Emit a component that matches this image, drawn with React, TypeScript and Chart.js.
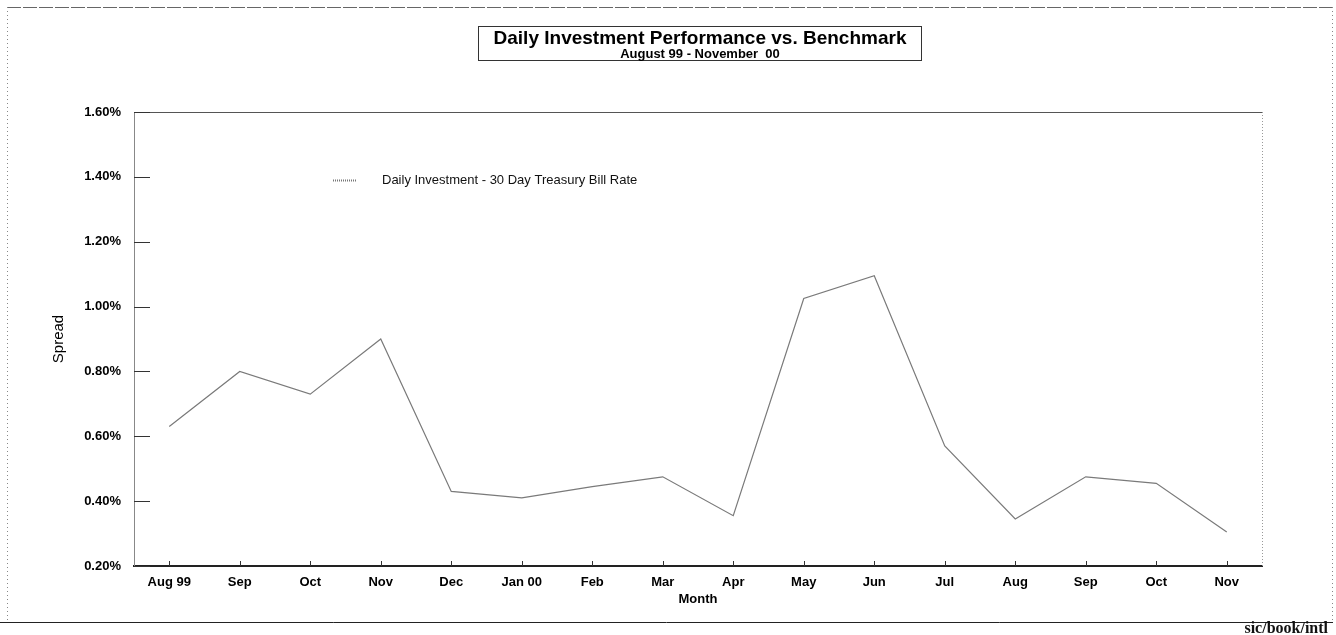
import React, { useEffect, useRef } from "react";
import { Chart, registerables } from "chart.js";

Chart.register(...registerables);

const months = ["Aug 99", "Sep", "Oct", "Nov", "Dec", "Jan 00", "Feb", "Mar", "Apr", "May", "Jun", "Jul", "Aug", "Sep", "Oct", "Nov"];
const spread = [0.63, 0.8, 0.73, 0.9, 0.43, 0.41, 0.445, 0.475, 0.355, 1.025, 1.095, 0.57, 0.345, 0.475, 0.455, 0.305];
const yTickValues = [0.2, 0.4, 0.6, 0.8, 1.0, 1.2, 1.4, 1.6];
const seriesLabel = "Daily Investment - 30 Day Treasury Bill Rate";
const titleText = "Daily Investment Performance vs. Benchmark";
const subtitleText = "August 99 - November  00";
const yAxisTitle = "Spread";
const xAxisTitle = "Month";
const footText = "sic/book/intl";

const SANS = "'Liberation Sans', Arial, Helvetica, sans-serif";
const SERIF = "'Liberation Serif', 'DejaVu Serif', serif";

const decorPlugin = {
  id: "decor",
  afterDraw(chart: any) {
    const ctx = chart.ctx as CanvasRenderingContext2D;
    const { left, right, top, bottom } = chart.chartArea;
    const xs = chart.scales.x;
    const ys = chart.scales.y;
    ctx.save();

    // plot top border
    ctx.strokeStyle = "#555";
    ctx.lineWidth = 1;
    ctx.beginPath();
    ctx.moveTo(left, top + 0.5);
    ctx.lineTo(right, top + 0.5);
    ctx.stroke();
    // right dotted border
    ctx.strokeStyle = "#999";
    ctx.setLineDash([1, 2]);
    ctx.beginPath();
    ctx.moveTo(right + 0.5, top);
    ctx.lineTo(right + 0.5, bottom);
    ctx.stroke();
    ctx.setLineDash([]);

    // inside y ticks
    ctx.strokeStyle = "#333";
    ctx.lineWidth = 1;
    yTickValues.forEach((v) => {
      const y = Math.round(ys.getPixelForValue(v)) + 0.5;
      ctx.beginPath();
      ctx.moveTo(left, y);
      ctx.lineTo(left + 16, y);
      ctx.stroke();
    });
    // inside x ticks
    months.forEach((_, i) => {
      const x = Math.round(xs.getPixelForValue(i)) + 0.5;
      ctx.beginPath();
      ctx.moveTo(x, bottom);
      ctx.lineTo(x, bottom - 5);
      ctx.stroke();
    });

    // outer frame
    ctx.strokeStyle = "#666";
    ctx.setLineDash([14, 2]);
    ctx.beginPath();
    ctx.moveTo(7, 7.5);
    ctx.lineTo(1333, 7.5);
    ctx.stroke();
    ctx.setLineDash([1, 3]);
    ctx.strokeStyle = "#888";
    ctx.beginPath();
    ctx.moveTo(7.5, 7);
    ctx.lineTo(7.5, 622);
    ctx.moveTo(1332.5, 7);
    ctx.lineTo(1332.5, 622);
    ctx.stroke();
    ctx.setLineDash([]);
    ctx.strokeStyle = "#222";
    ctx.beginPath();
    ctx.moveTo(0, 622.5);
    ctx.lineTo(1333, 622.5);
    ctx.stroke();

    // title box
    ctx.strokeStyle = "#333";
    ctx.lineWidth = 1;
    ctx.strokeRect(478.5, 26.5, 443, 34);
    ctx.fillStyle = "#000";
    ctx.textAlign = "center";
    ctx.textBaseline = "alphabetic";
    ctx.font = `bold 19px ${SANS}`;
    ctx.fillText(titleText, 700, 44);
    ctx.font = `bold 13px ${SANS}`;
    ctx.fillText(subtitleText, 700, 58);

    // legend
    ctx.strokeStyle = "#777";
    ctx.lineWidth = 2;
    ctx.setLineDash([1, 1]);
    ctx.beginPath();
    ctx.moveTo(333, 180.5);
    ctx.lineTo(357, 180.5);
    ctx.stroke();
    ctx.setLineDash([]);
    ctx.fillStyle = "#111";
    ctx.textAlign = "left";
    ctx.textBaseline = "middle";
    ctx.font = `13px ${SANS}`;
    ctx.fillText(seriesLabel, 382, 180);

    // footer
    ctx.fillStyle = "#111";
    ctx.textAlign = "right";
    ctx.textBaseline = "alphabetic";
    ctx.font = `bold 16px ${SERIF}`;
    ctx.fillText(footText, 1328, 633);

    ctx.restore();
  },
};

export default function App() {
  const canvasRef = useRef<HTMLCanvasElement | null>(null);

  useEffect(() => {
    const canvas = canvasRef.current;
    if (!canvas) return;
    const chart = new Chart(canvas, {
      type: "line",
      data: {
        labels: months,
        datasets: [
          {
            label: seriesLabel,
            data: spread,
            borderColor: "#7a7a7a",
            borderWidth: 1.2,
            pointRadius: 0,
            tension: 0,
            fill: false,
          },
        ],
      },
      options: {
        responsive: false,
        animation: false,
        devicePixelRatio: 1,
        layout: { padding: { left: 50, right: 74, top: 112, bottom: 28 } },
        plugins: {
          legend: { display: false },
          title: { display: false },
          tooltip: { enabled: false },
        },
        scales: {
          x: {
            type: "category",
            offset: true,
            grid: { display: false, drawTicks: false },
            border: { display: true, color: "#222", width: 2 },
            ticks: {
              color: "#000",
              font: { family: SANS, size: 13, weight: "bold" },
              padding: 9,
              maxRotation: 0,
              autoSkip: false,
            },
            title: {
              display: true,
              text: xAxisTitle,
              color: "#000",
              font: { family: SANS, size: 13, weight: "bold" },
              padding: { top: 0, bottom: 0 },
            },
            afterFit: (scale: any) => {
              scale.height = 41;
            },
          },
          y: {
            type: "linear",
            min: 0.2,
            max: 1.6,
            grid: { display: false, drawTicks: false },
            border: { display: true, color: "#888", width: 1, dash: [1, 2] },
            afterBuildTicks: (scale: any) => {
              scale.ticks = yTickValues.map((v) => ({ value: v }));
            },
            ticks: {
              color: "#000",
              font: { family: SANS, size: 13, weight: "bold" },
              padding: 13,
              callback: (v: any) => Number(v).toFixed(2) + "%",
            },
            title: {
              display: true,
              text: yAxisTitle,
              color: "#000",
              font: { family: SANS, size: 15 },
              padding: { top: 0, bottom: 0 },
            },
            afterFit: (scale: any) => {
              scale.width = 84;
            },
          },
        },
      },
      plugins: [decorPlugin],
    });
    return () => chart.destroy();
  }, []);

  return (
    <div style={{ position: "absolute", left: 0, top: 0, width: 1336, height: 635, background: "#fff" }}>
      <canvas ref={canvasRef} width={1336} height={635} style={{ display: "block" }} />
    </div>
  );
}
